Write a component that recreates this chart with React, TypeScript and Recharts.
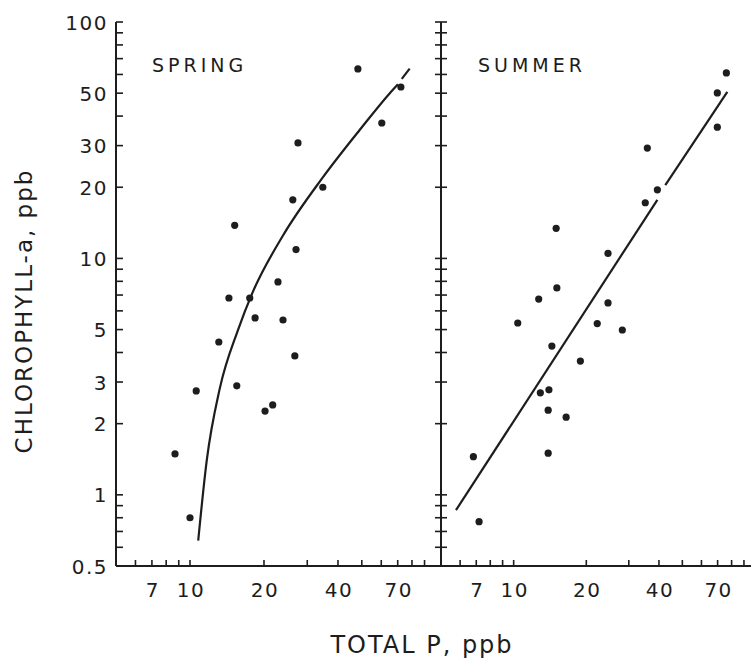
import React from "react";
import { ScatterChart, Scatter, XAxis, YAxis } from "recharts";

const INK = "#1d1d1d";
const FONT = "'DejaVu Sans', sans-serif";

// lake samples: total P (ppb) and chlorophyll-a (ppb)
const springTP = [8.69, 10.0, 10.6, 13.1, 15.5, 15.2, 14.4, 17.5, 18.4, 48.2, 72.1, 60.3, 27.5, 34.7, 26.2, 27.0, 22.8, 23.9, 26.7, 20.2, 21.7];
const springChl = [1.49, 0.8, 2.75, 4.43, 2.89, 13.8, 6.8, 6.8, 5.6, 63.3, 53.1, 37.4, 30.8, 20.0, 17.7, 10.9, 7.95, 5.49, 3.87, 2.26, 2.4];

const summerTP = [6.81, 7.19, 76.1, 69.8, 69.8, 35.8, 39.4, 35.1, 15.0, 24.6, 15.1, 12.7, 24.6, 10.4, 22.2, 28.2, 14.4, 18.9, 12.9, 14.0, 13.9, 16.5, 13.9];
const summerChl = [1.45, 0.77, 60.9, 50.1, 35.9, 29.3, 19.5, 17.2, 13.4, 10.5, 7.5, 6.73, 6.48, 5.33, 5.3, 4.98, 4.26, 3.68, 2.7, 2.78, 2.28, 2.13, 1.5];

// fitted lines
const springFitTP = [10.8, 11.7, 13.2, 15.7, 18.0, 23.9, 34.7, 49.1, 65.0, 70.1];
const springFitChl = [0.64, 1.4, 2.8, 5.0, 7.2, 12.5, 22.0, 35.0, 50.0, 54.5];
const springDashTP = [72.7, 78.3];
const springDashChl = [57.5, 63.5];
const summerLowTP = [5.77, 39.4];
const summerLowChl = [0.862, 17.7];
const summerHighTP = [42.5, 76.8];
const summerHighChl = [20.4, 50.6];

const xTicks = [6, 7, 8, 9, 10, 20, 30, 40, 50, 60, 70, 80, 90];
const xLabels = [7, 10, 20, 40, 70];
const yTicks = [0.5, 0.6, 0.7, 0.8, 0.9, 1, 2, 3, 4, 5, 6, 7, 8, 9, 10, 20, 30, 40, 50, 60, 70, 80, 90, 100];
const yLabels = [0.5, 1, 2, 3, 5, 10, 20, 30, 50, 100];

const pts = (xs: number[], ys: number[]) => xs.map((x, i) => ({ x, y: ys[i] }));

const labelStyle = { fontFamily: FONT, fontSize: 20, letterSpacing: 1.5, fill: INK };

const BottomTick = (p: any) => (
  <g>
    <line x1={p.x} y1={p.y} x2={p.x} y2={p.y - 6} stroke={INK} strokeWidth={1.6} />
    {xLabels.includes(p.payload.value) && (
      <text x={p.x + 1} y={p.y + 31} textAnchor="middle" style={labelStyle}>
        {p.payload.value}
      </text>
    )}
  </g>
);

const TopTick = (p: any) => (
  <line x1={p.x} y1={p.y} x2={p.x} y2={p.y + 6} stroke={INK} strokeWidth={1.6} />
);

const LeftTick = (p: any) => (
  <g>
    <line x1={p.x} y1={p.y} x2={p.x + 7} y2={p.y} stroke={INK} strokeWidth={1.6} />
    {yLabels.includes(p.payload.value) && (
      <text x={p.x - 8} y={p.y + 7.5} textAnchor="end" style={labelStyle}>
        {p.payload.value}
      </text>
    )}
  </g>
);

const CrossTick = (p: any) => (
  <line x1={p.x - 6} y1={p.y} x2={p.x + 6} y2={p.y} stroke={INK} strokeWidth={1.6} />
);

const RightTick = (p: any) => (
  <line x1={p.x} y1={p.y} x2={p.x - 6} y2={p.y} stroke={INK} strokeWidth={1.6} />
);

const Dot = (p: any) => <circle cx={p.cx} cy={p.cy} r={3.6} fill={INK} />;
const NoDot = () => <g />;

const axisLine = { stroke: INK, strokeWidth: 2 };
const fitLine = { stroke: INK, strokeWidth: 2.2 };

function Panel({ left, width, margin, yWidth, yTick, xDomain, data, lines }: any) {
  return (
    <div style={{ position: "absolute", left, top: 0 }}>
      <ScatterChart width={width} height={662} margin={margin}>
        <XAxis
          xAxisId="b" type="number" dataKey="x" scale="log" domain={xDomain} allowDataOverflow
          ticks={xTicks} interval={0} tickSize={0} tickMargin={0} tickLine={false}
          axisLine={axisLine} tick={BottomTick} height={40} orientation="bottom"
        />
        <XAxis
          xAxisId="t" type="number" dataKey="x" scale="log" domain={xDomain} allowDataOverflow
          ticks={xTicks} interval={0} tickSize={0} tickMargin={0} tickLine={false}
          axisLine={axisLine} tick={TopTick} height={0} orientation="top"
        />
        <YAxis
          yAxisId="l" type="number" dataKey="y" scale="log" domain={[0.5, 100]} allowDataOverflow
          ticks={yTicks} interval={0} tickSize={0} tickMargin={0} tickLine={false}
          axisLine={axisLine} tick={yTick} width={yWidth} orientation="left"
        />
        <YAxis
          yAxisId="r" type="number" dataKey="y" scale="log" domain={[0.5, 100]} allowDataOverflow
          ticks={yTicks} interval={0} tickSize={0} tickMargin={0} tickLine={false}
          axisLine={axisLine} tick={RightTick} width={0} orientation="right"
        />
        {lines.map((l: any, i: number) => (
          <Scatter
            key={i} xAxisId="b" yAxisId="l" data={l} line={fitLine} lineJointType="monotoneX"
            shape={NoDot} isAnimationActive={false}
          />
        ))}
        <Scatter xAxisId="b" yAxisId="l" data={data} shape={Dot} isAnimationActive={false} />
      </ScatterChart>
    </div>
  );
}

export default function App() {
  const txt = { fontFamily: FONT, fill: INK };
  return (
    <div style={{ position: "absolute", left: 0, top: 0, width: 751, height: 662, overflow: "hidden", background: "#fff" }}>
      <Panel
        left={0} width={445} margin={{ top: 22, right: 4, bottom: 56, left: 0 }} yWidth={116}
        yTick={LeftTick} xDomain={[5, 105]} data={pts(springTP, springChl)}
        lines={[pts(springFitTP, springFitChl), pts(springDashTP, springDashChl)]}
      />
      <Panel
        left={430} width={330} margin={{ top: 22, right: 5, bottom: 56, left: 0 }} yWidth={11}
        yTick={CrossTick} xDomain={[5, 100]} data={pts(summerTP, summerChl)}
        lines={[pts(summerLowTP, summerLowChl), pts(summerHighTP, summerHighChl)]}
      />
      <svg width={751} height={662} style={{ position: "absolute", left: 0, top: 0, pointerEvents: "none" }}>
        <text x={152} y={72} style={{ ...txt, fontSize: 19, letterSpacing: 4 }}>SPRING</text>
        <text x={478} y={72} style={{ ...txt, fontSize: 19, letterSpacing: 4 }}>SUMMER</text>
        <text transform="translate(32,311) rotate(-90)" textAnchor="middle" style={{ ...txt, fontSize: 23, letterSpacing: 2 }}>
          CHLOROPHYLL-a, ppb
        </text>
        <text x={422} y={653} textAnchor="middle" style={{ ...txt, fontSize: 24, letterSpacing: 2 }}>
          TOTAL P, ppb
        </text>
      </svg>
    </div>
  );
}
